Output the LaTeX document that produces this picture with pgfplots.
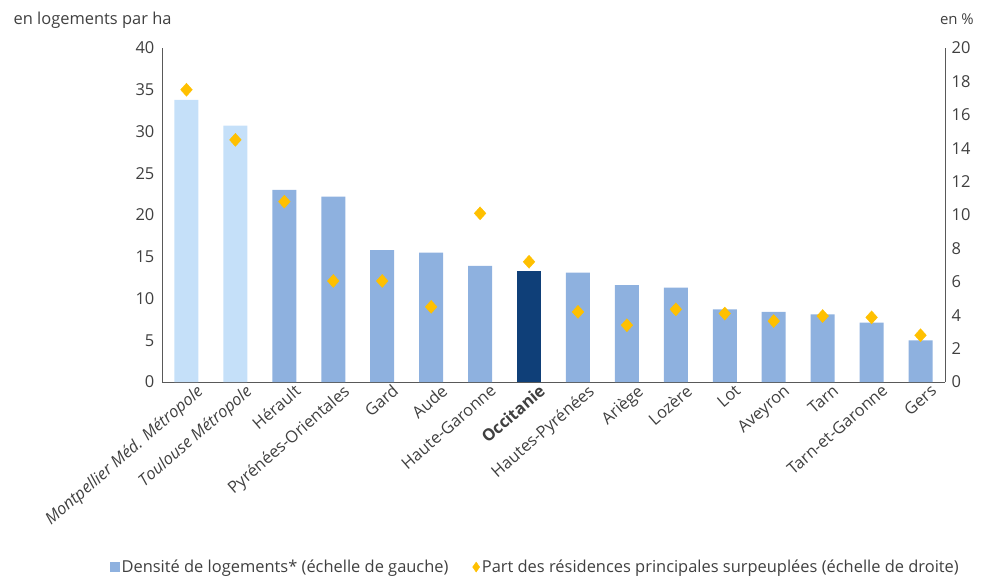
\documentclass[border=0pt]{standalone}
\usepackage{pgfplots}
\pgfplotsset{compat=1.18}
\usepackage{fontspec}
\setmainfont{Open Sans}
\definecolor{barlight}{HTML}{C5E0F9}
\definecolor{barmid}{HTML}{8EB1DF}
\definecolor{bardark}{HTML}{0F3F78}
\definecolor{gold}{HTML}{FFC000}
\definecolor{txt}{HTML}{404040}
\definecolor{axl}{HTML}{595959}
\begin{document}
\fontsize{16.5}{19}\selectfont
\begin{tikzpicture}
\useasboundingbox (-162bp,-196bp) rectangle (823bp,382bp);
\begin{axis}[
  scale only axis, width=783bp, height=334bp, at={(0,0)}, anchor=south west,
  xmin=-0.5, xmax=15.5, ymin=0, ymax=40,
  ytick={0,5,...,40},
  axis x line*=bottom, axis y line*=left,
  axis line style={axl, line width=0.8pt, -},
  major tick length=0pt,
  ybar, bar width=24bp, bar shift=0pt,
  xtick={0,...,15},
  xticklabels={{\textit{Montpellier Méd. Métropole}},{\textit{Toulouse Métropole}},Hérault,Pyrénées-Orientales,Gard,Aude,Haute-Garonne,{\textbf{Occitanie}},Hautes-Pyrénées,Ariège,Lozère,Lot,Aveyron,Tarn,Tarn-et-Garonne,Gers},
  x tick label style={rotate=41, anchor=north east, inner sep=0pt, xshift=6bp, yshift=-7bp},
  tick label style={text=txt},
  y tick label style={xshift=-2bp},
  /pgf/number format/assume math mode=true,
]
\addplot[fill=barlight, draw=none] coordinates {(0,33.8) (1,30.7)};
\addplot[fill=barmid, draw=none] coordinates {(2,23.0) (3,22.2) (4,15.8) (5,15.5) (6,13.9) (8,13.1) (9,11.6) (10,11.3) (11,8.7) (12,8.4) (13,8.1) (14,7.1) (15,5.0)};
\addplot[fill=bardark, draw=none] coordinates {(7,13.3)};
\end{axis}
\begin{axis}[
  scale only axis, width=783bp, height=334bp, at={(0,0)}, anchor=south west,
  xmin=-0.5, xmax=15.5, ymin=0, ymax=20,
  ytick={0,2,...,20},
  axis x line=none, axis y line*=right,
  axis line style={axl, line width=0.8pt, -},
  major tick length=0pt,
  tick label style={text=txt},
  y tick label style={xshift=1bp},
  /pgf/number format/assume math mode=true,
  legend style={at={(0.477,-0.554)}, anchor=center, draw=none, fill=none, text=txt,
    legend columns=2, /tikz/every even column/.append style={column sep=22bp},
    inner sep=0pt, font=\fontsize{16.5}{19}\selectfont},
  legend cell align=left,
]
\addlegendimage{legend image code/.code={\fill[barmid] (0bp,-4.5bp) rectangle (9bp,4.5bp);}}
\addlegendentry{Densité de logements* (échelle de gauche)}
\addplot[only marks, mark=diamond*, mark size=6.5bp, mark options={fill=gold, draw=gold, xscale=1.2}, legend image code/.code={\fill[gold] (4.5bp,-5bp) -- (8bp,0) -- (4.5bp,5bp) -- (1bp,0) -- cycle;}]
coordinates {(0,17.5) (1,14.5) (2,10.8) (3,6.05) (4,6.05) (5,4.5) (6,10.1) (7,7.2) (8,4.2) (9,3.4) (10,4.35) (11,4.1) (12,3.65) (13,3.95) (14,3.87) (15,2.8)};
\addlegendentry{Part des résidences principales surpeuplées (échelle de droite)}
\end{axis}
\node[anchor=base west, text=txt] at (-154bp,357bp) {en logements par ha};
\node[anchor=base east, text=txt, font=\fontsize{15}{18}\selectfont, inner sep=0pt] at (812bp,357bp) {en \%};
\end{tikzpicture}
\end{document}
